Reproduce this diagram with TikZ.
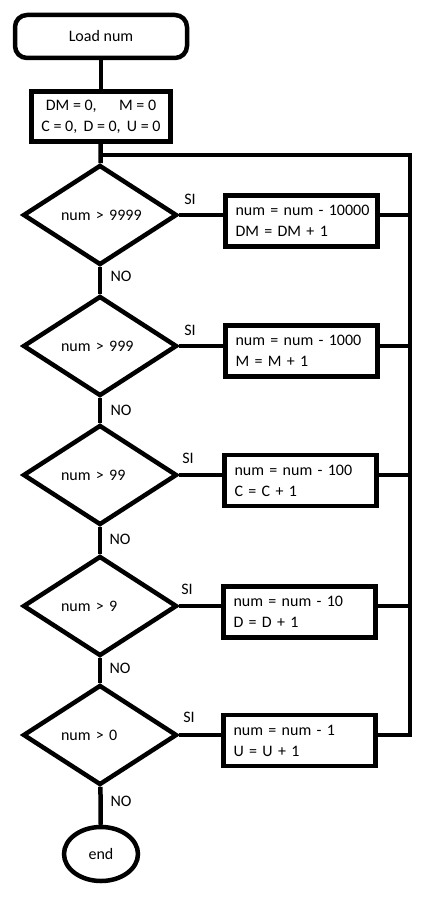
\documentclass[tikz,border=0pt]{standalone}
\usepackage{fontspec}
\setmainfont{Carlito}
\usetikzlibrary{shapes.geometric}

\begin{document}
\begin{tikzpicture}[x=1pt, y=-1pt, line width=4.5pt,
  every node/.style={font=\fontsize{16}{21}\selectfont},
  term/.style={draw, rounded corners=12pt, minimum width=172pt, minimum height=43pt},
  initbox/.style={draw, minimum width=139pt, minimum height=50pt, align=center, inner sep=0pt},
  proc/.style={draw, minimum width=152pt, minimum height=51pt, text width=132pt, align=left, inner sep=0pt},
  cond/.style={draw, diamond, minimum width=154pt, minimum height=100pt, text width=78pt, align=left, inner sep=0pt},
  lbl/.style={inner sep=0pt}]
  \useasboundingbox (0,0) rectangle (443,901);

  % Inicio
  \node[term] (load) at (101,36.5) {Load num};
  \node[initbox] (init) at (101,116.5) {DM = 0,\hspace{1.4em}M = 0\\C = 0,\, D = 0,\, U = 0};
  % Lazo de retorno
  \coordinate (rtop) at (410,155);

  % Condiciones
  \node[cond] (c1) at (100,215) {\mbox{num > 9999}};
  \node[cond] (c2) at (100,346) {\mbox{num > 999}};
  \node[cond] (c3) at (100,475) {\mbox{num > 99}};
  \node[cond] (c4) at (100,606) {\mbox{num > 9}};
  \node[cond] (c5) at (100,735) {\mbox{num > 0}};
  % Restas
  \node[proc] (b1) at (301.5,221) {\mbox{num = num - 10000}\\DM = DM + 1};
  \node[proc] (b2) at (301.5,351) {\mbox{num = num - 1000}\\M = M + 1};
  \node[proc] (b3) at (300.5,480.5) {\mbox{num = num - 100}\\C = C + 1};
  \node[proc] (b4) at (299.5,612) {\mbox{num = num - 10}\\D = D + 1};
  \node[proc] (b5) at (299.5,740.5) {\mbox{num = num - 1}\\U = U + 1};
  % Fin
  \node[draw, ellipse, minimum width=74pt, minimum height=54pt] (stop) at (101,854) {end};

  % Etiquetas
  \node[lbl] (si1) at (190,199) {SI};
  \node[lbl] (si2) at (190,330) {SI};
  \node[lbl] (si3) at (188,458) {SI};
  \node[lbl] (si4) at (187,589) {SI};
  \node[lbl] (si5) at (189,717) {SI};
  \node[lbl] (no1) at (121,276) {NO};
  \node[lbl] (no2) at (121,410) {NO};
  \node[lbl] (no3) at (120,539) {NO};
  \node[lbl] (no4) at (120,668) {NO};
  \node[lbl] (no5) at (121,801) {NO};

  \draw (load) -- (init);
  \draw (init) -- (c1);
  \draw (c1) -- (c2);
  \draw (c2) -- (c3);
  \draw (c3) -- (c4);
  \draw (c4) -- (c5);
  \draw (c5) -- (stop);

  \draw (c1.east) -- (c1.east -| b1.west);
  \draw (c2.east) -- (c2.east -| b2.west);
  \draw (c3.east) -- (c3.east -| b3.west);
  \draw (c4.east) -- (c4.east -| b4.west);
  \draw (c5.east) -- (c5.east -| b5.west);

  \draw (b1.east |- c1.east) -- (c1.east -| rtop);
  \draw (b2.east |- c2.east) -- (c2.east -| rtop);
  \draw (b3.east |- c3.east) -- (c3.east -| rtop);
  \draw (b4.east |- c4.east) -- (c4.east -| rtop);
  \draw (b5.east |- c5.east) -- (c5.east -| rtop) -- (rtop) -- (c1.north |- rtop);
\end{tikzpicture}
\end{document}
